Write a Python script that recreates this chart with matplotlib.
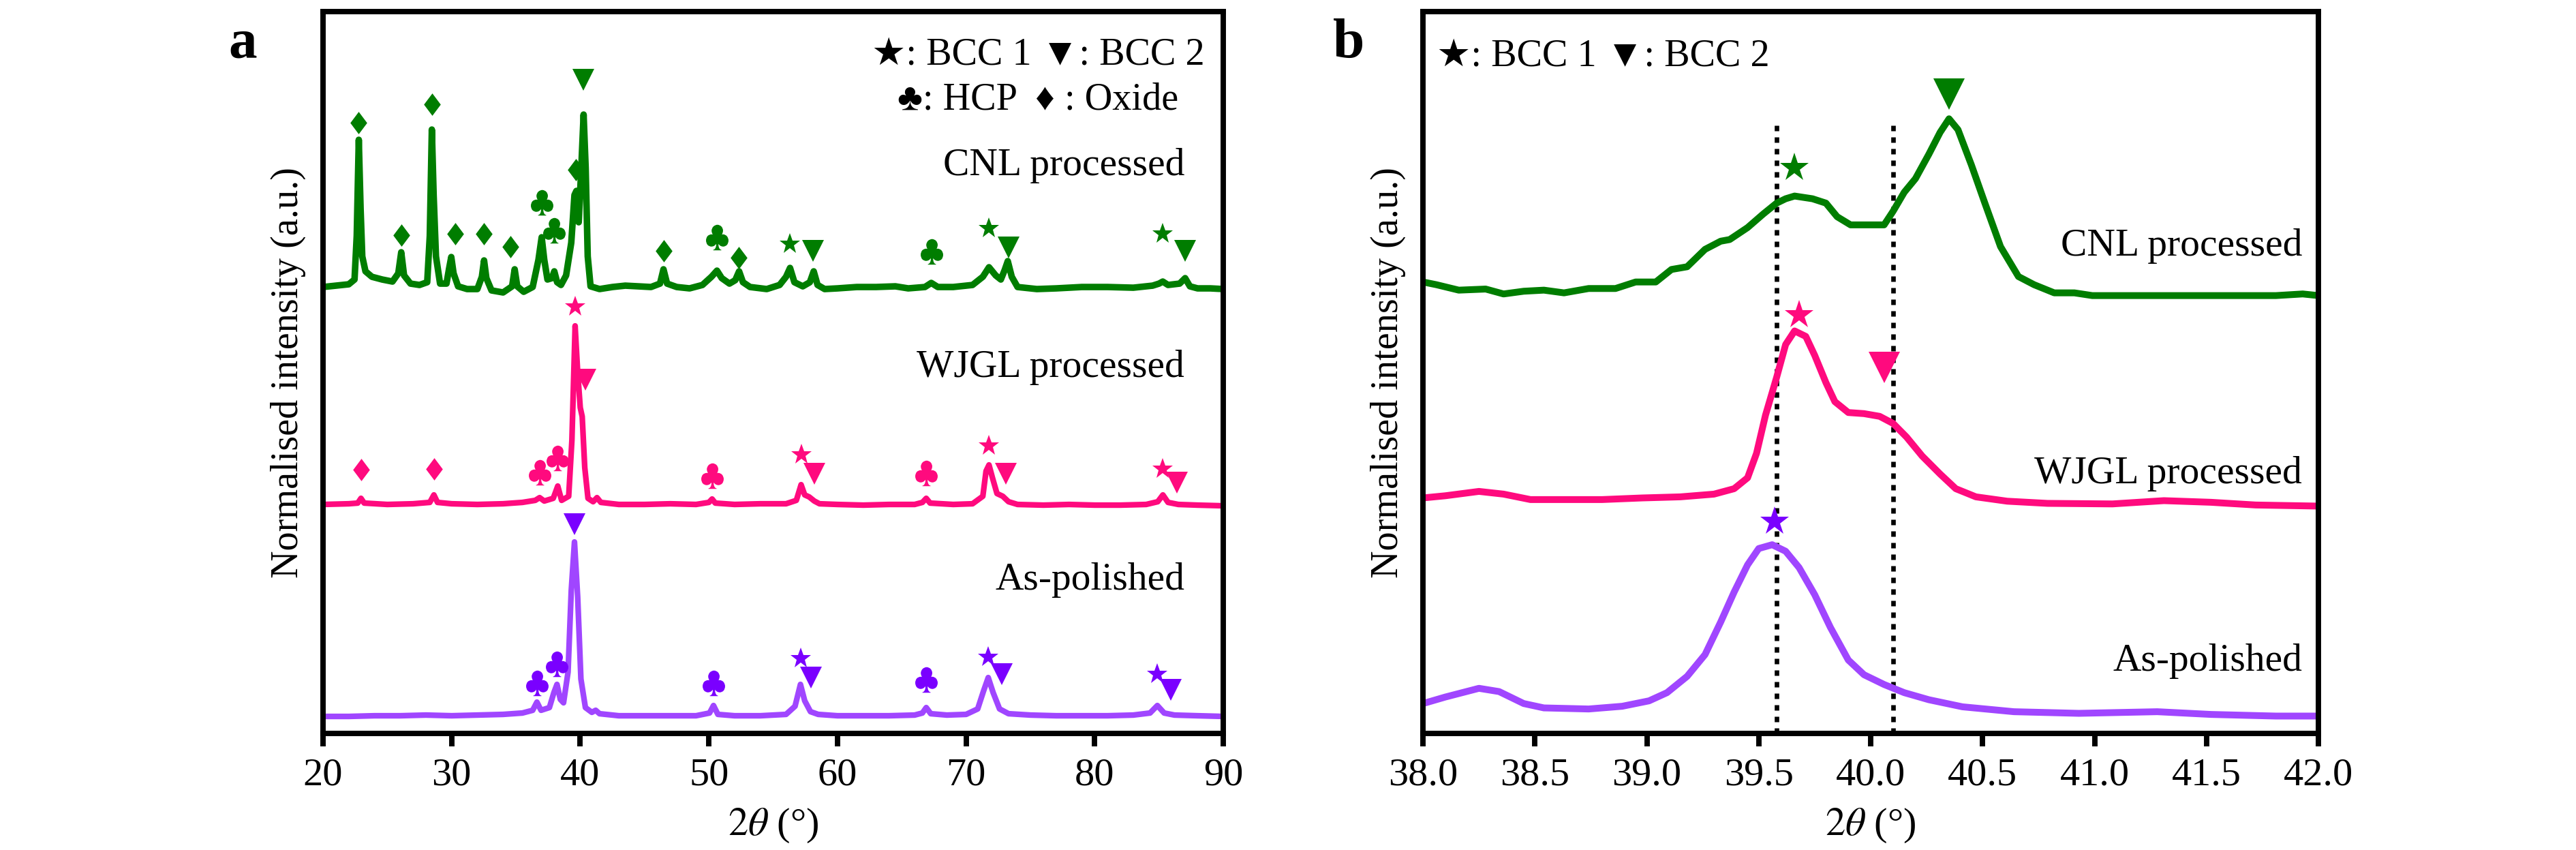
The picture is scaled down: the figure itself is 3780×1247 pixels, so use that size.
import numpy as np
import matplotlib.pyplot as plt
from matplotlib import font_manager
from matplotlib.path import Path

# pick a Times-like serif that is actually installed
installed = {f.name for f in font_manager.fontManager.ttflist}
serif = next((n for n in ['Liberation Serif', 'Times New Roman', 'Nimbus Roman', 'DejaVu Serif']
              if n in installed), 'DejaVu Serif')
plt.rcParams['font.family'] = [serif, 'DejaVu Sans']
plt.rcParams['mathtext.fontset'] = 'stix'

# %%
# ---- panel a : full scans, 2theta (deg) vs stacked intensity (a.u.) ----
cnl_a = [
    (20.0, 6.55), (21.0, 6.57), (22.0, 6.59), (22.45, 6.66), (22.62, 7.30), (22.78, 8.71),
    (22.92, 7.70), (23.05, 7.00), (23.30, 6.78), (23.80, 6.70), (24.60, 6.66), (25.40, 6.63),
    (25.85, 6.75), (26.08, 7.06), (26.30, 6.72), (26.80, 6.60), (27.50, 6.58), (28.10, 6.62),
    (28.30, 7.30), (28.46, 8.86), (28.60, 7.90), (28.78, 7.00), (29.10, 6.60), (29.60, 6.60),
    (29.80, 6.82), (29.97, 6.99), (30.15, 6.75), (30.50, 6.56), (31.20, 6.52), (32.00, 6.52),
    (32.35, 6.70), (32.52, 6.94), (32.70, 6.68), (33.10, 6.50), (34.00, 6.47), (34.70, 6.56),
    (34.90, 6.81), (35.10, 6.56), (35.60, 6.48), (36.30, 6.55), (36.75, 6.95), (37.00, 7.28),
    (37.20, 6.95), (37.45, 6.66), (37.80, 6.68), (37.98, 6.78), (38.20, 6.62), (38.50, 6.58),
    (38.90, 6.72), (39.30, 7.20), (39.55, 7.90), (39.70, 7.96), (39.88, 7.50), (40.08, 8.30),
    (40.26, 9.08), (40.42, 8.30), (40.58, 7.00), (40.80, 6.56), (41.50, 6.52), (42.50, 6.55),
    (43.50, 6.57), (44.50, 6.56), (45.50, 6.55), (46.20, 6.60), (46.47, 6.81), (46.75, 6.60),
    (47.50, 6.55), (48.50, 6.53), (49.50, 6.58), (50.20, 6.70), (50.63, 6.79), (51.00, 6.68),
    (51.60, 6.60), (52.05, 6.65), (52.35, 6.78), (52.65, 6.62), (53.20, 6.55), (54.50, 6.52),
    (55.50, 6.58), (56.00, 6.70), (56.31, 6.83), (56.65, 6.62), (57.30, 6.56), (57.85, 6.62),
    (58.15, 6.78), (58.45, 6.58), (59.00, 6.52), (60.00, 6.53), (61.50, 6.55), (63.00, 6.55),
    (64.50, 6.56), (65.50, 6.53), (66.80, 6.55), (67.29, 6.61), (67.80, 6.55), (69.00, 6.55),
    (70.50, 6.58), (71.30, 6.70), (71.78, 6.84), (72.30, 6.72), (72.70, 6.66), (73.00, 6.80),
    (73.24, 6.93), (73.55, 6.70), (74.00, 6.55), (75.50, 6.52), (77.00, 6.53), (79.00, 6.55),
    (81.00, 6.55), (83.00, 6.54), (84.50, 6.57), (85.00, 6.60), (85.29, 6.63), (85.70, 6.58),
    (86.60, 6.60), (87.03, 6.68), (87.40, 6.56), (88.00, 6.53), (89.00, 6.53), (90.00, 6.52),
]

wjgl_a = [
    (20.0, 3.36), (22.0, 3.37), (22.7, 3.38), (22.95, 3.45), (23.2, 3.38), (25.0, 3.36),
    (27.0, 3.37), (28.3, 3.39), (28.62, 3.50), (28.9, 3.39), (30.0, 3.37), (32.0, 3.36),
    (34.0, 3.37), (35.5, 3.39), (36.5, 3.42), (36.84, 3.46), (37.2, 3.41), (37.9, 3.45),
    (38.25, 3.63), (38.55, 3.42), (39.1, 3.48), (39.35, 4.30), (39.6, 5.98), (39.8, 5.30),
    (40.0, 4.78), (40.15, 4.65), (40.35, 3.90), (40.6, 3.45), (41.0, 3.40), (41.3, 3.46),
    (41.6, 3.39), (43.0, 3.36), (45.0, 3.36), (47.0, 3.37), (49.0, 3.36), (50.0, 3.39),
    (50.25, 3.44), (50.5, 3.38), (52.0, 3.36), (54.0, 3.37), (56.0, 3.37), (56.8, 3.42),
    (57.17, 3.65), (57.45, 3.50), (57.8, 3.47), (58.2, 3.41), (58.6, 3.37), (60.0, 3.36),
    (62.0, 3.35), (64.0, 3.36), (66.0, 3.36), (66.6, 3.39), (66.9, 3.45), (67.2, 3.38),
    (69.0, 3.36), (70.5, 3.37), (71.3, 3.48), (71.55, 3.85), (71.78, 3.94), (72.05, 3.75),
    (72.4, 3.52), (72.85, 3.48), (73.3, 3.40), (74.0, 3.36), (76.0, 3.35), (78.0, 3.36),
    (80.0, 3.35), (82.0, 3.35), (84.0, 3.36), (84.9, 3.40), (85.3, 3.50), (85.7, 3.39),
    (86.5, 3.36), (88.0, 3.35), (90.0, 3.34),
]

ap_a = [
    (20.0, 0.25), (22.0, 0.25), (24.0, 0.26), (26.0, 0.26), (28.0, 0.27), (30.0, 0.26),
    (32.0, 0.27), (34.0, 0.28), (35.5, 0.30), (36.3, 0.34), (36.63, 0.46), (36.95, 0.34),
    (37.6, 0.38), (37.95, 0.60), (38.19, 0.72), (38.45, 0.50), (38.7, 0.45), (39.05, 0.90),
    (39.3, 2.10), (39.55, 2.81), (39.8, 2.00), (40.05, 0.80), (40.4, 0.38), (40.9, 0.31),
    (41.2, 0.34), (41.5, 0.29), (43.0, 0.26), (45.0, 0.26), (47.0, 0.26), (49.0, 0.26),
    (50.05, 0.30), (50.36, 0.41), (50.7, 0.28), (52.0, 0.26), (54.0, 0.26), (56.0, 0.28),
    (56.7, 0.40), (57.12, 0.72), (57.45, 0.48), (57.9, 0.32), (58.5, 0.28), (60.0, 0.26),
    (62.0, 0.26), (64.0, 0.26), (66.0, 0.27), (66.6, 0.30), (66.9, 0.38), (67.25, 0.29),
    (68.5, 0.27), (70.0, 0.28), (70.9, 0.36), (71.35, 0.62), (71.72, 0.82), (72.1, 0.60),
    (72.6, 0.36), (73.3, 0.29), (75.0, 0.27), (77.0, 0.26), (79.0, 0.26), (81.0, 0.26),
    (83.0, 0.27), (84.3, 0.30), (84.87, 0.41), (85.4, 0.30), (86.2, 0.27), (88.0, 0.26),
    (90.0, 0.25),
]

# phase markers (phase, 2theta, height)
cnl_a_marks = [
    ('oxide', 22.78, 8.96), ('oxide', 26.08, 7.31), ('oxide', 28.46, 9.23), ('oxide', 30.30, 7.33),
    ('oxide', 32.52, 7.33), ('oxide', 34.57, 7.14), ('hcp', 37.00, 7.79), ('hcp', 37.98, 7.38),
    ('oxide', 39.66, 8.27), ('bcc2', 40.26, 9.59), ('oxide', 46.47, 7.08), ('hcp', 50.63, 7.28),
    ('oxide', 52.30, 6.98), ('bcc1', 56.31, 7.18), ('bcc2', 58.10, 7.08), ('hcp', 67.29, 7.07),
    ('bcc1', 71.78, 7.41), ('bcc2', 73.30, 7.13), ('bcc1', 85.29, 7.33), ('bcc2', 87.05, 7.08),
]
wjgl_a_marks = [
    ('oxide', 22.95, 3.87), ('oxide', 28.62, 3.88), ('hcp', 36.84, 3.83), ('hcp', 38.25, 4.04),
    ('bcc1', 39.60, 6.26), ('bcc2', 40.40, 5.19), ('hcp', 50.25, 3.78), ('bcc1', 57.17, 4.09),
    ('bcc2', 58.20, 3.81), ('hcp', 66.90, 3.82), ('bcc1', 71.78, 4.22), ('bcc2', 73.07, 3.81),
    ('bcc1', 85.30, 3.88), ('bcc2', 86.38, 3.68),
]
ap_a_marks = [
    ('hcp', 36.63, 0.74), ('hcp', 38.19, 1.02), ('bcc2', 39.55, 3.07), ('hcp', 50.36, 0.74),
    ('bcc1', 57.12, 1.10), ('bcc2', 57.93, 0.82), ('hcp', 66.90, 0.79), ('bcc1', 71.72, 1.12),
    ('bcc2', 72.78, 0.87), ('bcc1', 84.87, 0.87), ('bcc2', 85.94, 0.64),
]

# ---- panel b : zoom on the main BCC reflection ----
cnl_b = [
    (38.00, 8.30), (38.06, 8.25), (38.16, 8.15), (38.28, 8.17), (38.36, 8.08), (38.45, 8.13),
    (38.54, 8.15), (38.63, 8.10), (38.74, 8.18), (38.86, 8.18), (38.95, 8.30), (39.04, 8.30),
    (39.11, 8.53), (39.18, 8.58), (39.26, 8.90), (39.33, 9.05), (39.37, 9.08), (39.45, 9.30),
    (39.52, 9.55), (39.58, 9.75), (39.62, 9.83), (39.66, 9.88), (39.74, 9.83), (39.80, 9.75),
    (39.85, 9.50), (39.91, 9.35), (40.00, 9.35), (40.06, 9.35), (40.10, 9.60), (40.15, 9.95),
    (40.20, 10.20), (40.26, 10.65), (40.31, 11.05), (40.35, 11.30), (40.39, 11.10), (40.45, 10.45),
    (40.51, 9.75), (40.58, 8.95), (40.66, 8.40), (40.73, 8.25), (40.82, 8.10), (40.91, 8.10),
    (40.99, 8.05), (41.37, 8.05), (41.81, 8.05), (41.93, 8.08), (42.00, 8.05),
]
wjgl_b = [
    (38.00, 4.33), (38.10, 4.37), (38.25, 4.45), (38.36, 4.40), (38.48, 4.30), (38.60, 4.30),
    (38.80, 4.30), (38.98, 4.33), (39.15, 4.35), (39.30, 4.40), (39.39, 4.50), (39.45, 4.70),
    (39.49, 5.15), (39.53, 5.85), (39.58, 6.55), (39.62, 7.15), (39.66, 7.40), (39.71, 7.30),
    (39.75, 6.95), (39.80, 6.45), (39.84, 6.10), (39.90, 5.90), (39.97, 5.88), (40.04, 5.83),
    (40.10, 5.70), (40.16, 5.45), (40.23, 5.10), (40.31, 4.77), (40.38, 4.50), (40.47, 4.35),
    (40.61, 4.27), (40.79, 4.23), (41.08, 4.22), (41.31, 4.28), (41.52, 4.25), (41.72, 4.20),
    (42.00, 4.18),
]
ap_b = [
    (38.00, 0.55), (38.10, 0.67), (38.25, 0.83), (38.34, 0.77), (38.45, 0.55), (38.54, 0.47),
    (38.74, 0.45), (38.89, 0.50), (39.01, 0.60), (39.09, 0.75), (39.18, 1.05), (39.26, 1.45),
    (39.33, 2.05), (39.39, 2.60), (39.45, 3.10), (39.50, 3.40), (39.56, 3.47), (39.62, 3.35),
    (39.68, 3.05), (39.75, 2.55), (39.82, 1.95), (39.90, 1.35), (39.97, 1.08), (40.06, 0.90),
    (40.15, 0.75), (40.26, 0.62), (40.41, 0.49), (40.64, 0.40), (40.93, 0.37), (41.28, 0.40),
    (41.52, 0.35), (41.81, 0.32), (42.00, 0.32),
]
cnl_b_marks = [('bcc1', 39.66, 10.40), ('bcc2', 40.35, 11.75)]
wjgl_b_marks = [('bcc1', 39.68, 7.70), ('bcc2', 40.06, 6.73)]
ap_b_marks = [('bcc1', 39.57, 3.90)]

ref_lines_b = [39.58, 40.10]

samples = ['CNL processed', 'WJGL processed', 'As-polished']

# %%
green = '#007d00'
pink = '#ff0a7e'
purple_line = '#a046ff'
purple_mark = '#7a00ff'

diamond = Path([(0, 1), (0.75, 0), (0, -1), (-0.75, 0), (0, 1)], closed=True)
marker_shape = {'bcc1': '*', 'bcc2': 'v', 'hcp': r'$\clubsuit$', 'oxide': diamond}
marker_scale = {'bcc1': 1.0, 'bcc2': 1.05, 'hcp': 1.2, 'oxide': 1.05}


def draw_curve(ax, pts, color, lw):
    x, y = zip(*pts)
    ax.plot(x, y, color=color, lw=lw, solid_joinstyle='round', solid_capstyle='round')


def draw_marks(ax, marks, color, size):
    for phase, x, y in marks:
        ax.plot([x], [y], ls='none', marker=marker_shape[phase], color=color,
                markeredgewidth=0, markersize=size * marker_scale[phase])


def style_axes(ax):
    for s in ax.spines.values():
        s.set_linewidth(1.9)
    ax.set_yticks([])
    ax.tick_params(axis='x', direction='out', length=4.6, width=1.9, labelsize=14, pad=4)
    ax.set_ylabel('Normalised intensity (a.u.)', fontsize=13.5, labelpad=6)
    ax.set_xlabel(r'$\mathit{2\theta}$ (°)', fontsize=14, labelpad=4.7)


fig = plt.figure(figsize=(12.6, 4.1567), dpi=300)
ax_a = fig.add_axes([0.1254, 0.1371, 0.3495, 0.8492])
ax_b = fig.add_axes([0.5524, 0.1371, 0.3476, 0.8492])

# panel a
draw_curve(ax_a, cnl_a, green, 2.3)
draw_curve(ax_a, wjgl_a, pink, 2.0)
draw_curve(ax_a, ap_a, purple_line, 2.0)
draw_marks(ax_a, cnl_a_marks, green, 7.5)
draw_marks(ax_a, wjgl_a_marks, pink, 7.5)
draw_marks(ax_a, ap_a_marks, purple_mark, 7.5)
ax_a.set_xlim(20, 90)
ax_a.set_ylim(0, 10.59)
ax_a.set_xticks(np.arange(20, 91, 10))
style_axes(ax_a)

ax_a.text(0.794, 0.926, '★: BCC 1 ▼: BCC 2', transform=ax_a.transAxes,
          ha='center', va='baseline', fontsize=13.5)
ax_a.text(0.794, 0.865, '♣: HCP  ♦ : Oxide', transform=ax_a.transAxes,
          ha='center', va='baseline', fontsize=13.5)
for name, ty in zip(samples, [0.773, 0.494, 0.199]):
    ax_a.text(0.957, ty, name, transform=ax_a.transAxes, ha='right', va='baseline', fontsize=13.8)

# panel b
ax_b.vlines(ref_lines_b, 0, 11.25, colors='black', lw=1.6, linestyles=[(0, (1.2, 1.35))])
draw_curve(ax_b, cnl_b, green, 2.4)
draw_curve(ax_b, wjgl_b, pink, 2.4)
draw_curve(ax_b, ap_b, purple_line, 2.4)
draw_marks(ax_b, cnl_b_marks, green, 10.5)
draw_marks(ax_b, wjgl_b_marks, pink, 10.5)
draw_marks(ax_b, ap_b_marks, purple_mark, 10.5)
ax_b.set_xlim(38, 42)
ax_b.set_ylim(0, 13.27)
ax_b.set_xticks(np.arange(38, 42.01, 0.5))
ax_b.set_xticklabels(['%.1f' % t for t in np.arange(38, 42.01, 0.5)])
style_axes(ax_b)

ax_b.text(0.015, 0.924, '★: BCC 1 ▼: BCC 2', transform=ax_b.transAxes,
          ha='left', va='baseline', fontsize=13.5)
for name, ty in zip(samples, [0.662, 0.347, 0.087]):
    ax_b.text(0.982, ty, name, transform=ax_b.transAxes, ha='right', va='baseline', fontsize=13.8)

fig.text(0.0942, 0.948, 'a', fontsize=20, fontweight='bold', ha='center', va='center')
fig.text(0.5235, 0.948, 'b', fontsize=20, fontweight='bold', ha='center', va='center')

fig.savefig('out.png', dpi=300)
